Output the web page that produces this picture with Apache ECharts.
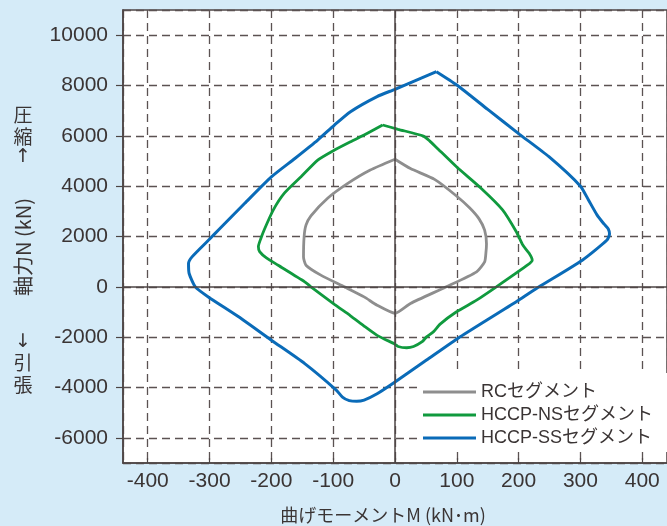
<!DOCTYPE html>
<html>
<head>
<meta charset="utf-8">
<script src="https://cdn.jsdelivr.net/npm/echarts@6/dist/echarts.min.js"></script>
<style>
  html, body { margin: 0; padding: 0; background: #d5ebf8; }
  #chart { width: 667px; height: 526px; }
</style>
</head>
<body>
<div id="chart"></div>
<script>
// 曲げモーメントM (kN·m) / 軸力N (kN) を読み取った値
var rcM = [0, 25, 64, 99, 121, 136, 145, 148, 147, 145, 132, 83, 25, 0, -29, -50, -82, -120, -144, -148, -147, -144, -136, -109, -77, -40, 0];
var rcN = [5070, 4700, 4270, 3620, 3130, 2700, 2250, 1700, 1330, 994, 597, 0, -660, -1050, -730, -400, 0, 465, 860, 1190, 2000, 2450, 2820, 3520, 4100, 4640, 5070];

var nsM = [-20, 5, 46, 56, 67, 99, 140, 174, 196, 207, 217, 222, 214, 164, 132, 99, 73, 62, 51, 44, 30, 19, 5, -2, -15, -29, -50, -72, -98, -136, -146, -189, -208, -219, -221, -217, -211, -197, -179, -152, -125, -98, -72, -50, -20];
var nsN = [6430, 6260, 5990, 5800, 5540, 4780, 3900, 3060, 2200, 1650, 1330, 1060, 860, 0, -530, -1000, -1480, -1790, -1990, -2180, -2370, -2420, -2370, -2250, -2100, -1930, -1560, -1150, -700, 0, 200, 860, 1150, 1400, 1600, 1920, 2300, 3050, 3720, 4374, 5037, 5435, 5766, 6031, 6430];

var ssM = [67, 100, 150, 201, 249, 300, 313, 327, 338, 345, 347, 343, 303, 233, 200, 105, 51, 0, -29, -50, -62, -74, -85, -95, -146, -200, -253, -302, -323, -333, -334, -328, -299, -286, -243, -200, -162, -125, -98, -72, -29, 0, 67];
var ssN = [8550, 8020, 7050, 6070, 5170, 4000, 3450, 2850, 2500, 2300, 2100, 1860, 1060, 0, -530, -1990, -2910, -3780, -4250, -4500, -4550, -4520, -4380, -4100, -3050, -2120, -1190, -400, 0, 530, 930, 1200, 1920, 2250, 3320, 4370, 5100, 5830, 6430, 6960, 7560, 7850, 8550];

var seriesNames = ['RCセグメント', 'HCCP-NSセグメント', 'HCCP-SSセグメント'];
var seriesColors = ['#8e8e8e', '#109a3e', '#0a6bb8'];

function pairs(ms, ns) {
  return ms.map(function (m, i) { return [m, ns[i]]; });
}

var chart = echarts.init(document.getElementById('chart'));
var latin = '"Liberation Sans", "Noto Sans CJK JP", sans-serif';
var cjk = '"Noto Sans CJK JP", sans-serif';
var textColor = '#3a3434';
var gridColor = '#5b5252';
var axisColor = '#4d4545';

function plain(v) { return String(v); }

var option = {
  backgroundColor: '#d5ebf8',
  animation: false,
  textStyle: { fontFamily: latin },
  grid: {
    left: 123, top: 10, right: -6, bottom: 63,
    show: true, backgroundColor: '#ffffff',
    borderColor: axisColor, borderWidth: 1.5
  },
  legend: {
    orient: 'vertical',
    left: 418, top: 373,
    padding: [9, 14, 4, 5],
    itemGap: 3,
    itemWidth: 53, itemHeight: 3,
    icon: 'rect',
    backgroundColor: '#ffffff',
    textStyle: { color: textColor, fontSize: 18, lineHeight: 20, fontFamily: latin },
    data: seriesNames
  },
  xAxis: {
    type: 'value',
    min: -440, max: 440, splitNumber: 9,
    axisLine: { show: true, onZero: false, lineStyle: { color: axisColor, width: 1.5 } },
    axisTick: { show: true, inside: true, length: 5, lineStyle: { color: axisColor, width: 1.2 } },
    axisLabel: { color: textColor, fontSize: 21, margin: 8, formatter: plain, showMinLabel: false, showMaxLabel: false },
    splitLine: { show: true, lineStyle: { color: gridColor, width: 1.3, type: [8, 5] } }
  },
  yAxis: {
    type: 'value',
    min: -7000, max: 11000, splitNumber: 9,
    axisLine: { show: true, onZero: false, lineStyle: { color: axisColor, width: 1.5 } },
    axisTick: { show: true, length: 7, lineStyle: { color: axisColor, width: 1.2 } },
    axisLabel: { color: textColor, fontSize: 21, margin: 15, formatter: plain, showMinLabel: false, showMaxLabel: false },
    splitLine: { show: true, lineStyle: { color: gridColor, width: 1.3, type: [8, 5] } }
  },
  graphic: [
    { type: 'text', x: 383, y: 515,
      style: { text: '曲げモーメントM (kN･m)', fill: textColor, align: 'center', verticalAlign: 'middle', font: '18px ' + cjk } },
    { type: 'text', x: 23, y: 247, rotation: Math.PI / 2,
      style: { text: '軸力N (kN)', fill: textColor, align: 'center', verticalAlign: 'middle', font: '20px ' + cjk } },
    { type: 'text', x: 23, y: 126,
      style: { text: '圧\n縮', fill: textColor, align: 'center', verticalAlign: 'middle', lineHeight: 22, font: '19px ' + cjk } },
    { type: 'text', x: 23, y: 157,
      style: { text: '↑', fill: textColor, align: 'center', verticalAlign: 'middle', font: '19px "DejaVu Sans", sans-serif' } },
    { type: 'text', x: 23, y: 342,
      style: { text: '↓', fill: textColor, align: 'center', verticalAlign: 'middle', font: '19px "DejaVu Sans", sans-serif' } },
    { type: 'text', x: 23, y: 374,
      style: { text: '引\n張', fill: textColor, align: 'center', verticalAlign: 'middle', lineHeight: 22, font: '19px ' + cjk } }
  ],
  series: [
    {
      name: seriesNames[0], type: 'line', showSymbol: false, smooth: 0.2,
      lineStyle: { color: seriesColors[0], width: 2.8 }, itemStyle: { color: seriesColors[0] },
      data: pairs(rcM, rcN),
      z: 3,
      markLine: {
        silent: true, symbol: 'none', label: { show: false },
        lineStyle: { color: axisColor, width: 1.5, type: 'solid' },
        data: [{ xAxis: 0 }, { yAxis: 0 }]
      }
    },
    {
      name: seriesNames[1], type: 'line', showSymbol: false, smooth: 0.2,
      lineStyle: { color: seriesColors[1], width: 2.8 }, itemStyle: { color: seriesColors[1] },
      data: pairs(nsM, nsN), z: 3
    },
    {
      name: seriesNames[2], type: 'line', showSymbol: false, smooth: 0.2,
      lineStyle: { color: seriesColors[2], width: 3 }, itemStyle: { color: seriesColors[2] },
      data: pairs(ssM, ssN), z: 3
    }
  ]
};
chart.setOption(option);
</script>
</body>
</html>
